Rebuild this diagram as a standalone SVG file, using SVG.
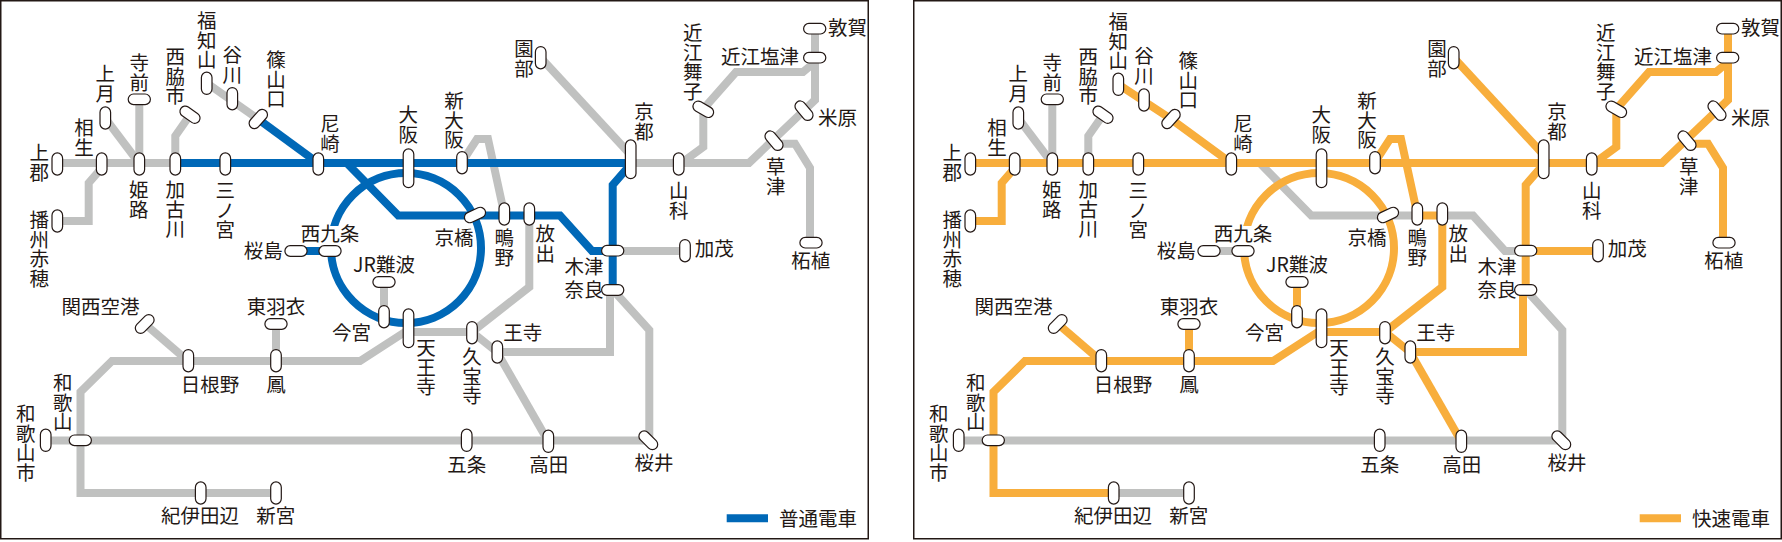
<svg xmlns="http://www.w3.org/2000/svg" width="1782" height="542" viewBox="0 0 1782 542">
<style>
text{font-family:"Noto Sans CJK JP","Noto Sans",sans-serif;font-size:19.5px;fill:#231815}
.v{writing-mode:vertical-rl;text-orientation:upright}
.m{text-anchor:middle}
.e{text-anchor:end}
.frame{fill:#fff;stroke:#231815;stroke-width:1.5}
.ln{fill:none;stroke-width:8;stroke-linejoin:miter;stroke-linecap:butt}
.g{stroke:#c0c1c0}
.b{stroke:#0068b7}
.o{stroke:#f8ae3c}
.pill{fill:#fff;stroke:#231815;stroke-width:1.2}
</style>
<defs>
<rect id="pv" class="pill" x="-5.3" y="-11.1" width="10.6" height="22.2" rx="5.3"/>
<rect id="ph" class="pill" x="-11.1" y="-5.3" width="22.2" height="10.6" rx="5.3"/>
<rect id="pl" class="pill" x="-5.3" y="-19.4" width="10.6" height="38.8" rx="5.3"/>
</defs>
<g id="panel-left">
<rect class="frame" x="0.75" y="0.75" width="867.5" height="538"/>
<g id="connectors-left">
<g class="ln g">
<path d="M57 163H175"/>
<path d="M105 118L139 163"/>
<path d="M139.300 99V163"/>
<path d="M190 115L175.300 136V163"/>
<path d="M101.700 168L88.700 183V221H57"/>
<path d="M206.700 83L258 119"/>
<path d="M630 163H749L815 100V29"/>
<path d="M780 143.700H795L810 168V243"/>
<path d="M680 164L703.300 147V109L736 72H803L815 62"/>
<path d="M541 58L628 152"/>
<path d="M685 251H613"/>
<path d="M462 162L477 139H488L504.300 214"/>
<path d="M384 282V317"/>
<path d="M408 332H472L529.300 287V214"/>
<path d="M472 332L497 352"/>
<path d="M497 352H610V290"/>
<path d="M613 290L649.300 330V440"/>
<path d="M497 352L548 441"/>
<path d="M45 440.500H648"/>
<path d="M408 330L360 361H112L80.500 392V493H276"/>
<path d="M188 361L145 324"/>
<path d="M276 324V361"/>
</g>
<g class="ln b">
<path d="M175 163H630"/>
<path d="M258 119L318 163"/>
<path d="M346.700 163L398.300 215.500H560L592 251H612"/>
<circle cx="406" cy="248" r="75"/>
<path d="M630 165L612.700 185V290"/>
<path d="M296 251H330"/>
</g>
</g>
<rect x="314" y="226" width="32" height="19" fill="#fff"/>
<g id="l-kamigori"><use href="#pv" x="57.300" y="164"/><text class="v" x="39.300" y="143">上郡</text></g>
<g id="l-aioi"><use href="#pv" x="101.700" y="164"/><text class="v" x="84" y="118">相生</text></g>
<g id="l-himeji"><use href="#pv" x="139.300" y="164"/><text class="v" x="138.700" y="180">姫路</text></g>
<g id="l-kakogawa"><use href="#pv" x="175.300" y="164"/><text class="v" x="175.300" y="180">加古川</text></g>
<g id="l-sannomiya"><use href="#pv" x="225.300" y="164"/><text class="v" x="225.300" y="181">三ノ宮</text></g>
<g id="l-amagasaki"><use href="#pv" x="318.300" y="164"/><text class="v" x="330" y="114">尼崎</text></g>
<g id="l-osaka"><use href="#pl" x="408.500" y="168.300"/><text class="v" x="408.300" y="105">大阪</text></g>
<g id="l-shinosaka"><use href="#pv" x="462" y="162.700"/><text class="v" x="454" y="91">新大阪</text></g>
<g id="l-kyoto"><use href="#pl" x="630.700" y="159.300"/><text class="v" x="644" y="102">京都</text></g>
<g id="l-yamashina"><use href="#pv" x="678.700" y="164"/><text class="v" x="678.700" y="181">山科</text></g>
<g id="l-omimaiko"><use href="#ph" transform="translate(703.300 109.300) rotate(30)"/><text class="v" x="692.700" y="23">近江舞子</text></g>
<g id="l-omishiotsu"><use href="#ph" x="814.700" y="57.700"/><text class="e" x="799" y="64">近江塩津</text></g>
<g id="l-tsuruga"><use href="#ph" x="814.700" y="28.700"/><text x="828" y="35">敦賀</text></g>
<g id="l-maibara"><use href="#ph" transform="translate(804 110.700) rotate(50)"/><text x="818" y="125">米原</text></g>
<g id="l-kusatsu"><use href="#ph" transform="translate(774 140.700) rotate(50)"/><text class="v" x="775.700" y="157">草津</text></g>
<g id="l-tsuge"><use href="#ph" x="811" y="242.700"/><text class="m" x="810.700" y="268">柘植</text></g>
<g id="l-kamo"><use href="#pv" x="685" y="250.700"/><text x="694.700" y="256">加茂</text></g>
<g id="l-kizu"><use href="#ph" x="612.700" y="250.700"/><text class="e" x="603.500" y="273.500">木津</text></g>
<g id="l-nara"><use href="#ph" x="612.700" y="290"/><text class="e" x="603.500" y="297">奈良</text></g>
<g id="l-sonobe"><use href="#pv" x="540.700" y="57.700"/><text class="v" x="524" y="39">園部</text></g>
<g id="l-hanaten"><use href="#pv" x="529.300" y="214"/><text class="v" x="545.300" y="224">放出</text></g>
<g id="l-shigino"><use href="#pv" x="504.300" y="214"/><text class="v" x="504.300" y="228">鴫野</text></g>
<g id="l-kyobashi"><use href="#ph" transform="translate(475 215) rotate(-25)"/><text class="e" x="473.500" y="245">京橋</text></g>
<g id="l-nishikujo"><use href="#ph" x="330" y="251"/><text class="m" x="330" y="241">西九条</text></g>
<g id="l-sakurajima"><use href="#ph" x="296" y="251"/><text class="e" x="282.700" y="257.500">桜島</text></g>
<g id="l-jrnamba"><use href="#ph" x="384" y="282"/><text class="m" x="384" y="272">JR難波</text></g>
<g id="l-imamiya"><use href="#pv" x="384" y="316.700"/><text class="e" x="371" y="339.500">今宮</text></g>
<g id="l-tennoji"><use href="#pl" x="408.500" y="328.300"/><text class="v" x="426" y="338">天王寺</text></g>
<g id="l-kyuhoji"><use href="#pv" x="472" y="332.700"/><text class="v" x="472" y="347">久宝寺</text></g>
<g id="l-oji"><use href="#pv" x="497.300" y="352"/><text class="m" x="522.700" y="340">王寺</text></g>
<g id="l-takada"><use href="#pv" x="548.300" y="441.300"/><text class="m" x="548.700" y="472">高田</text></g>
<g id="l-gojo"><use href="#pv" x="466.700" y="440.300"/><text class="m" x="466.700" y="472">五条</text></g>
<g id="l-sakurai"><use href="#ph" transform="translate(648.300 440.300) rotate(45)"/><text class="m" x="654" y="469.500">桜井</text></g>
<g id="l-hineno"><use href="#pv" x="188.300" y="360.700"/><text class="m" x="210" y="392">日根野</text></g>
<g id="l-otori"><use href="#pv" x="276" y="360.700"/><text class="m" x="276" y="392">鳳</text></g>
<g id="l-higashihagoromo"><use href="#ph" x="276" y="324"/><text class="m" x="276" y="313.500">東羽衣</text></g>
<g id="l-kansaiairport"><use href="#ph" transform="translate(144.700 324) rotate(-45)"/><text class="m" x="100.500" y="313.500">関西空港</text></g>
<g id="l-wakayama"><use href="#ph" x="80.300" y="440.300"/><text class="v" x="62.700" y="373">和歌山</text></g>
<g id="l-wakayamashi"><use href="#pv" x="45.700" y="440.300"/><text class="v" x="25.700" y="404">和歌山市</text></g>
<g id="l-kiitanabe"><use href="#pv" x="200.700" y="493"/><text class="m" x="200" y="523">紀伊田辺</text></g>
<g id="l-shingu"><use href="#pv" x="276" y="493"/><text class="m" x="275.700" y="523">新宮</text></g>
<g id="l-banshuako"><use href="#pv" x="57.300" y="221"/><text class="v" x="39.300" y="210">播州赤穂</text></g>
<g id="l-kozuki"><use href="#pv" x="105.300" y="118"/><text class="v" x="105.300" y="64">上月</text></g>
<g id="l-teramae"><use href="#ph" x="139.300" y="99.300"/><text class="v" x="139.300" y="53">寺前</text></g>
<g id="l-nishiwakishi"><use href="#ph" transform="translate(190 114.700) rotate(35)"/><text class="v" x="175.300" y="47">西脇市</text></g>
<g id="l-fukuchiyama"><use href="#pv" x="206.700" y="83.300"/><text class="v" x="206.700" y="11">福知山</text></g>
<g id="l-tanigawa"><use href="#pv" x="232.300" y="98.700"/><text class="v" x="232.300" y="45">谷川</text></g>
<g id="l-sasayamaguchi"><use href="#ph" transform="translate(258.300 119) rotate(-48)"/><text class="v" x="276" y="50">篠山口</text></g>
<g id="l-legend"><path class="ln b" d="M726.700 518.300H768"/><text x="779" y="526">普通電車</text></g>
</g>
<g id="panel-right" transform="translate(913 0)">
<rect class="frame" x="0.75" y="0.75" width="867.5" height="538"/>
<g id="connectors-right">
<g class="ln g">
<path d="M105 118L139 163"/>
<path d="M139.300 99V163"/>
<path d="M190 115L175.300 136V163"/>
<path d="M346.700 163L398.300 215.500H504"/>
<path d="M529 215.500H560L592 251H612"/>
<path d="M296 251H330"/>
<path d="M613 290L649.300 330V440"/>
<path d="M45 440.500H648"/>
<path d="M200 493H276"/>
</g>
<g class="ln o">
<path d="M57 163H749L815 100V29"/>
<path d="M101.700 168L88.700 183V221H57"/>
<path d="M205.300 84.300L258 119L318 163"/>
<path d="M780 143.700H795L810 168V243"/>
<path d="M680 164L703.300 147V109L736 72H803L815 62"/>
<path d="M541 58L628 152"/>
<path d="M685 251H613"/>
<path d="M462 162L477 139H488L504.300 214"/>
<path d="M504 215.500H529"/>
<circle cx="406" cy="248" r="75"/>
<path d="M630 165L612.700 185V290"/>
<path d="M384 282V317"/>
<path d="M408 332H472L529.300 287V214"/>
<path d="M472 332L497 352"/>
<path d="M497 352H610V290"/>
<path d="M497 352L548 441"/>
<path d="M408 330L360 361H112L80.500 392V493H200"/>
<path d="M188 361L145 324"/>
<path d="M276 324V361"/>
</g>
</g>
<rect x="314" y="226" width="32" height="19" fill="#fff"/>
<g id="r-kamigori"><use href="#pv" x="57.300" y="164"/><text class="v" x="39.300" y="143">上郡</text></g>
<g id="r-aioi"><use href="#pv" x="101.700" y="164"/><text class="v" x="84" y="118">相生</text></g>
<g id="r-himeji"><use href="#pv" x="139.300" y="164"/><text class="v" x="138.700" y="180">姫路</text></g>
<g id="r-kakogawa"><use href="#pv" x="175.300" y="164"/><text class="v" x="175.300" y="180">加古川</text></g>
<g id="r-sannomiya"><use href="#pv" x="225.300" y="164"/><text class="v" x="225.300" y="181">三ノ宮</text></g>
<g id="r-amagasaki"><use href="#pv" x="318.300" y="164"/><text class="v" x="330" y="114">尼崎</text></g>
<g id="r-osaka"><use href="#pl" x="408.500" y="168.300"/><text class="v" x="408.300" y="105">大阪</text></g>
<g id="r-shinosaka"><use href="#pv" x="462" y="162.700"/><text class="v" x="454" y="91">新大阪</text></g>
<g id="r-kyoto"><use href="#pl" x="630.700" y="159.300"/><text class="v" x="644" y="102">京都</text></g>
<g id="r-yamashina"><use href="#pv" x="678.700" y="164"/><text class="v" x="678.700" y="181">山科</text></g>
<g id="r-omimaiko"><use href="#ph" transform="translate(703.300 109.300) rotate(30)"/><text class="v" x="692.700" y="23">近江舞子</text></g>
<g id="r-omishiotsu"><use href="#ph" x="814.700" y="57.700"/><text class="e" x="799" y="64">近江塩津</text></g>
<g id="r-tsuruga"><use href="#ph" x="814.700" y="28.700"/><text x="828" y="35">敦賀</text></g>
<g id="r-maibara"><use href="#ph" transform="translate(804 110.700) rotate(50)"/><text x="818" y="125">米原</text></g>
<g id="r-kusatsu"><use href="#ph" transform="translate(774 140.700) rotate(50)"/><text class="v" x="775.700" y="157">草津</text></g>
<g id="r-tsuge"><use href="#ph" x="811" y="242.700"/><text class="m" x="810.700" y="268">柘植</text></g>
<g id="r-kamo"><use href="#pv" x="685" y="250.700"/><text x="694.700" y="256">加茂</text></g>
<g id="r-kizu"><use href="#ph" x="612.700" y="250.700"/><text class="e" x="603.500" y="273.500">木津</text></g>
<g id="r-nara"><use href="#ph" x="612.700" y="290"/><text class="e" x="603.500" y="297">奈良</text></g>
<g id="r-sonobe"><use href="#pv" x="540.700" y="57.700"/><text class="v" x="524" y="39">園部</text></g>
<g id="r-hanaten"><use href="#pv" x="529.300" y="214"/><text class="v" x="545.300" y="224">放出</text></g>
<g id="r-shigino"><use href="#pv" x="504.300" y="214"/><text class="v" x="504.300" y="228">鴫野</text></g>
<g id="r-kyobashi"><use href="#ph" transform="translate(475 215) rotate(-25)"/><text class="e" x="473.500" y="245">京橋</text></g>
<g id="r-nishikujo"><use href="#ph" x="330" y="251"/><text class="m" x="330" y="241">西九条</text></g>
<g id="r-sakurajima"><use href="#ph" x="296" y="251"/><text class="e" x="282.700" y="257.500">桜島</text></g>
<g id="r-jrnamba"><use href="#ph" x="384" y="282"/><text class="m" x="384" y="272">JR難波</text></g>
<g id="r-imamiya"><use href="#pv" x="384" y="316.700"/><text class="e" x="371" y="339.500">今宮</text></g>
<g id="r-tennoji"><use href="#pl" x="408.500" y="328.300"/><text class="v" x="426" y="338">天王寺</text></g>
<g id="r-kyuhoji"><use href="#pv" x="472" y="332.700"/><text class="v" x="472" y="347">久宝寺</text></g>
<g id="r-oji"><use href="#pv" x="497.300" y="352"/><text class="m" x="522.700" y="340">王寺</text></g>
<g id="r-takada"><use href="#pv" x="548.300" y="441.300"/><text class="m" x="548.700" y="472">高田</text></g>
<g id="r-gojo"><use href="#pv" x="466.700" y="440.300"/><text class="m" x="466.700" y="472">五条</text></g>
<g id="r-sakurai"><use href="#ph" transform="translate(648.300 440.300) rotate(45)"/><text class="m" x="654" y="469.500">桜井</text></g>
<g id="r-hineno"><use href="#pv" x="188.300" y="360.700"/><text class="m" x="210" y="392">日根野</text></g>
<g id="r-otori"><use href="#pv" x="276" y="360.700"/><text class="m" x="276" y="392">鳳</text></g>
<g id="r-higashihagoromo"><use href="#ph" x="276" y="324"/><text class="m" x="276" y="313.500">東羽衣</text></g>
<g id="r-kansaiairport"><use href="#ph" transform="translate(144.700 324) rotate(-45)"/><text class="m" x="100.500" y="313.500">関西空港</text></g>
<g id="r-wakayama"><use href="#ph" x="80.300" y="440.300"/><text class="v" x="62.700" y="373">和歌山</text></g>
<g id="r-wakayamashi"><use href="#pv" x="45.700" y="440.300"/><text class="v" x="25.700" y="404">和歌山市</text></g>
<g id="r-kiitanabe"><use href="#pv" x="200.700" y="493"/><text class="m" x="200" y="523">紀伊田辺</text></g>
<g id="r-shingu"><use href="#pv" x="276" y="493"/><text class="m" x="275.700" y="523">新宮</text></g>
<g id="r-banshuako"><use href="#pv" x="57.300" y="221"/><text class="v" x="39.300" y="210">播州赤穂</text></g>
<g id="r-kozuki"><use href="#pv" x="105.300" y="118"/><text class="v" x="105.300" y="64">上月</text></g>
<g id="r-teramae"><use href="#ph" x="139.300" y="99.300"/><text class="v" x="139.300" y="53">寺前</text></g>
<g id="r-nishiwakishi"><use href="#ph" transform="translate(190 114.700) rotate(35)"/><text class="v" x="175.300" y="47">西脇市</text></g>
<g id="r-fukuchiyama"><use href="#pv" x="205.300" y="84.300"/><text class="v" x="205.300" y="12">福知山</text></g>
<g id="r-tanigawa"><use href="#pv" x="231" y="100"/><text class="v" x="231" y="46">谷川</text></g>
<g id="r-sasayamaguchi"><use href="#ph" transform="translate(258 119) rotate(-48)"/><text class="v" x="275.300" y="51">篠山口</text></g>
<g id="r-legend"><path class="ln o" d="M726.700 518.300H768"/><text x="779" y="526">快速電車</text></g>
</g>
</svg>
